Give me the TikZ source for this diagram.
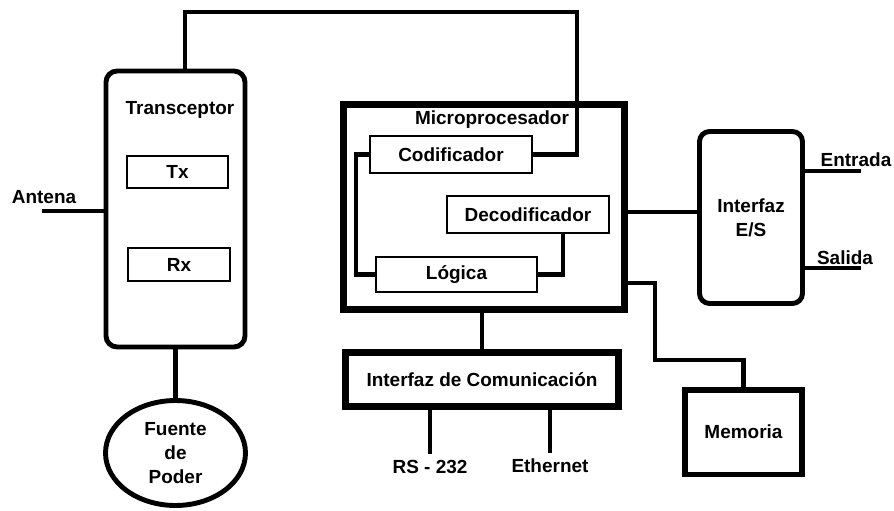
\documentclass[tikz,border=0pt]{standalone}
\usepackage{fontspec}
\setmainfont{Liberation Sans}
\usetikzlibrary{calc}
\usetikzlibrary{shapes.geometric}
\tikzset{every node/.style={font=\fontsize{10.8}{13.5}\selectfont\bfseries}}
\tikzset{
  box/.style={draw, line width=0.9pt, inner sep=0pt},
  blk/.style={draw, line width=4pt, inner sep=0pt},
  rblk/.style={draw, line width=2.8pt, rounded corners=0.22cm, inner sep=0pt, align=center},
  wire/.style={line width=2.3pt}
}

\begin{document}
\begin{tikzpicture}[x=0.02cm, y=-0.02cm]
    \useasboundingbox (0,0) rectangle (894,511);

    % transceptor
    \node[rblk, minimum width=2.78cm, minimum height=5.52cm] (trans) at (175.5,209) {};
    \node (transtxt) at (180,110) {Transceptor};
    \node[box, minimum width=2.02cm, minimum height=0.64cm] (tx) at (177.5,172) {Tx};
    \node[box, minimum width=2.04cm, minimum height=0.66cm] (rx) at (179,264.5) {Rx};
    \node[ellipse, draw, line width=2.8pt, minimum width=2.8cm, minimum height=2.1cm, inner sep=0pt, align=center] (fuente) at (175.5,453) {Fuente\\de\\Poder};
    \node (antena) at (44,197) {Antena};
    \coordinate (ant) at (42,211);

    % microprocesador
    \node[blk, minimum width=5.62cm, minimum height=4.10cm] (micro) at (484,207) {};
    \node (microtxt) at (492,120) {Microprocesador};
    \node[box, minimum width=3.24cm, minimum height=0.74cm] (cod) at (451,154.5) {Codificador};
    \node[box, minimum width=3.24cm, minimum height=0.74cm] (dec) at (528,214.5) {Decodificador};
    \node[box, minimum width=3.22cm, minimum height=0.70cm] (log) at (456.5,274.5) {Lógica};

    % interfaces y memoria
    \node[rblk, rounded corners=0.2cm, minimum width=2.06cm, minimum height=3.44cm] (es) at (751,217.5) {Interfaz\\E/S};
    \node (entrada) at (856,160) {Entrada};
    \node (salida) at (845,258) {Salida};
    \coordinate (inp) at (861,171);
    \coordinate (outp) at (861,268);
    \node[blk, line width=3.4pt, minimum width=2.34cm, minimum height=1.70cm] (mem) at (743.5,432) {Memoria};
    \node[blk, minimum width=5.46cm, minimum height=1.08cm] (com) at (482,379.5) {Interfaz de Comunicación};
    \node (rs) at (430,467) {RS - 232};
    \node (eth) at (550,466) {Ethernet};

    \coordinate (c1) at (185,12);
    \coordinate (c2) at (577,12);
    \coordinate (esy) at (0,212);
    \coordinate (m1) at (655,283);
    \coordinate (m2) at (655,360);

    \draw[wire] (c1 |- trans.north) -- (c1) -- (c2) |- (cod.east);
    \draw[wire] (cod.west) -- ++(-13,0) |- (log.west);
    \draw[wire] ($(dec.south)+(35,0)$) |- (log.east);
    \draw[wire] (micro.east |- esy) -- (es.west |- esy);
    \draw[wire] (es.east |- inp) -- (inp);
    \draw[wire] (es.east |- outp) -- (outp);
    \draw[wire] (micro.east |- m1) -- (m1) -- (m2) -| (mem.north);
    \draw[wire] (com.north |- micro.south) -- (com.north);
    \draw[wire] (trans.south) -- (fuente.north);
    \draw[wire] (ant) -- (ant -| trans.west);
    \draw[wire] (com.south -| rs.north) -- (rs.north);
    \draw[wire] (com.south -| eth.north) -- (eth.north);
\end{tikzpicture}
\end{document}
